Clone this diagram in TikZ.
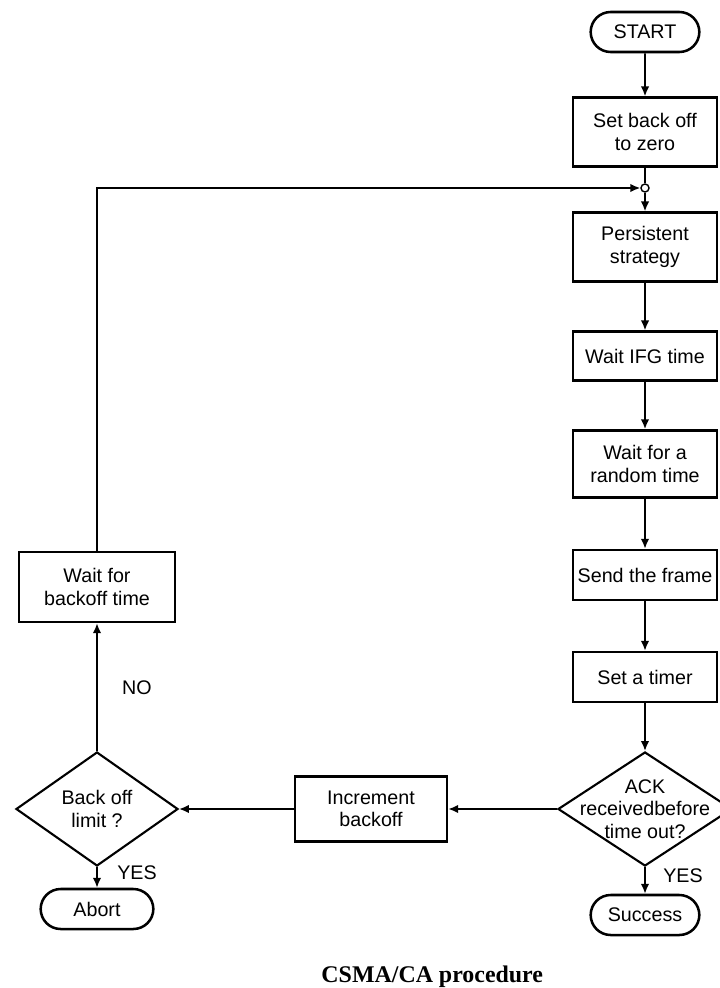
\documentclass[tikz,border=0pt]{standalone}
\usepackage{fontspec}
\setmainfont{Liberation Sans}
\newfontfamily\captionfont{Liberation Serif}
\usetikzlibrary{arrows.meta,shapes.geometric,shapes.misc}

\begin{document}
\begin{tikzpicture}[x=0.025cm,y=-0.025cm,
  box/.style={draw,line width=1.8pt,align=center,font=\fontsize{14}{16}\selectfont,minimum width=3.6cm,inner sep=2pt},
  pill/.style={draw,line width=1.8pt,rounded rectangle,font=\fontsize{14}{16}\selectfont,minimum height=1cm,minimum width=2.95cm},
  decision/.style={draw,line width=1.5pt,diamond,inner sep=0pt,minimum height=2.85cm},
  flow/.style={line width=1.2pt,-{Latex[length=7pt,width=6pt]}},
  tag/.style={font=\fontsize{14}{16}\selectfont}]
\useasboundingbox (0,0) rectangle (719,988);
% right column
\node[pill] (start) at (645,32) {START};
\node[box,minimum height=1.72cm] (zero) at (645,132) {Set back off\\to zero};
\node[circle,draw,fill=white,line width=1pt,inner sep=0pt,minimum size=0.2cm] (jn) at (645,188) {};
\node[box,minimum height=1.72cm] (persist) at (645,247) {Persistent\\strategy};
\node[box,minimum height=1.22cm] (ifg) at (645,356) {Wait IFG time};
\node[box,minimum height=1.68cm] (rand) at (645,464) {Wait for a\\random time};
\node[box,minimum height=1.25cm] (send) at (645,575) {Send the frame};
\node[box,minimum height=1.25cm] (timer) at (645,677) {Set a timer};
\node[decision,minimum width=4.35cm,label={[tag,align=center]center:{ACK\\receivedbefore\\time out?}}] (ack) at (645,809) {};
\node[pill] (success) at (645,915) {Success};
% middle and left column
\node[box,minimum width=3.8cm,minimum height=1.62cm] (inc) at (371,809) {Increment\\backoff};
\node[decision,minimum width=4.05cm,label={[tag,align=center]center:{Back off\\limit ?}}] (lim) at (97,809) {};
\node[box,minimum width=3.9cm,minimum height=1.75cm] (wait) at (97,587) {Wait for\\backoff time};
\node[pill,minimum width=3.05cm] (abort) at (97,909) {Abort};
% labels
\node[tag] (yesr) at (683,876) {YES};
\node[tag] (yesl) at (137,873) {YES};
\node[tag] (no) at (137,688) {NO};
\node[font=\captionfont\bfseries\fontsize{17}{19}\selectfont,anchor=east] (cap) at (548,977) {CSMA/CA procedure};
% connectors
\draw[flow] (start) -- (zero);
\draw[line width=1.2pt] (zero) -- (jn);
\draw[flow] (jn) -- (persist);
\draw[flow] (persist) -- (ifg);
\draw[flow] (ifg) -- (rand);
\draw[flow] (rand) -- (send);
\draw[flow] (send) -- (timer);
\draw[flow] (timer) -- (ack);
\draw[flow] (ack) -- (success);
\draw[flow] (ack) -- (inc);
\draw[flow] (inc) -- (lim);
\draw[flow] (lim) -- (wait);
\draw[flow] (lim) -- (abort);
\draw[flow] (wait.north) |- (jn);
\end{tikzpicture}
\end{document}
